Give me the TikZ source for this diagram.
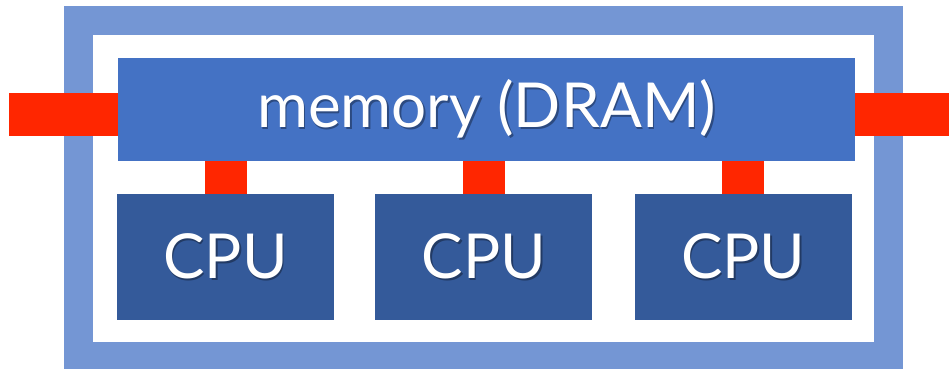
\documentclass[tikz,border=0pt]{standalone}
\usepackage{fontspec}
\setmainfont{Lato}
\usepackage{tikz}
\usetikzlibrary{positioning,calc}

\definecolor{framecol}{HTML}{7496D4}
\definecolor{memcol}{HTML}{4472C4}
\definecolor{cpucol}{HTML}{345A9A}
\definecolor{buscol}{HTML}{FF2600}

% white text with a soft dark offset behind it
\newcommand{\shadowed}[2]{\leavevmode\rlap{\kern1.6pt\raisebox{-1.6pt}{\color{black!35!#1}#2}}#2}

\tikzset{
	box/.style={rectangle,inner sep=0pt,text=white,font=\fontsize{62}{70}\selectfont},
	memory/.style={box,fill=memcol,minimum width=737pt,minimum height=103pt},
	cpu/.style={box,fill=cpucol,minimum width=217pt,minimum height=126pt},
	bus/.style={draw=buscol,line cap=butt,line width=43pt},
	link/.style={draw=buscol,line cap=butt,line width=42pt}
}

\begin{document}
\begin{tikzpicture}[x=1pt,y=-1pt]
		\useasboundingbox (0,0) rectangle (949,368);
		% chip package
		\draw[framecol,line width=29pt] (78.5,20.5) rectangle (888.5,356.5);
		\node[memory] (mem) at (486.5,109.5) {\shadowed{memcol}{memory (DRAM)}};
		\node[cpu] (cpu_1) at (225.5,257) {\shadowed{cpucol}{CPU}};
		\node[cpu] [right=41pt of cpu_1] (cpu_2) {\shadowed{cpucol}{CPU}};
		\node[cpu] [right=42pt of cpu_2] (cpu_3) {\shadowed{cpucol}{CPU}};
		\coordinate (bus_l) at (9,114.5);
		\coordinate (bus_r) at (949,114.5);
		\path[bus]
			(bus_l) -- (mem.west |- bus_l)
			(mem.east |- bus_r) -- (bus_r);
		\foreach \c in {cpu_1,cpu_2,cpu_3}
			\path[link] (\c.north) -- (\c.north |- mem.south);
	\end{tikzpicture}
\end{document}
